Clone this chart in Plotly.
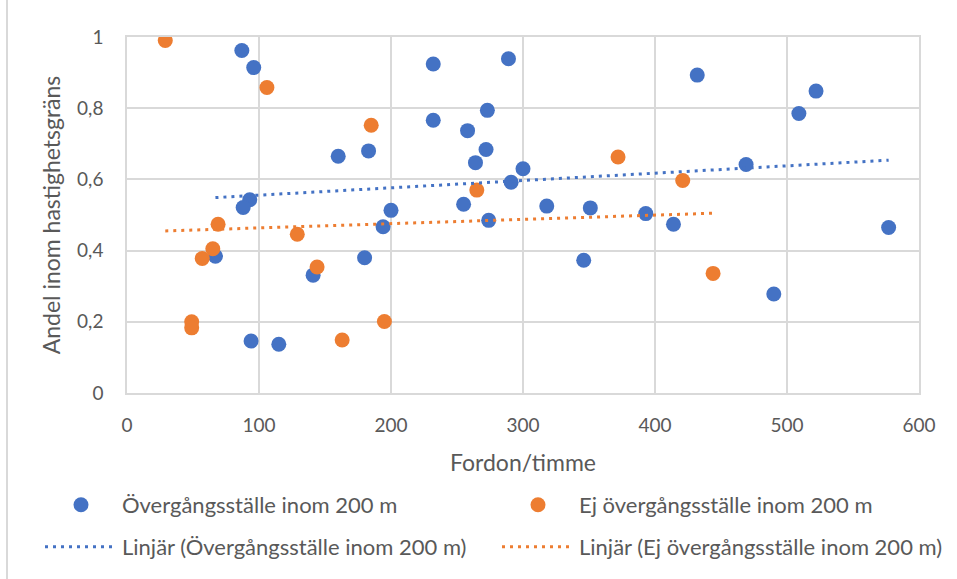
import numpy as np
import plotly.graph_objects as go

# Blue series: Övergångsställe inom 200 m
blue_x = [87, 96, 160, 183, 93, 88, 200, 232, 289, 432, 232, 273, 258, 272, 264, 300,
          291, 255, 274, 318, 351, 393, 414, 346, 469, 509, 522, 577, 490, 67, 141, 180,
          194, 94, 115]
blue_y = [0.962, 0.914, 0.665, 0.680, 0.543, 0.521, 0.513, 0.924, 0.939, 0.893, 0.766,
          0.794, 0.737, 0.684, 0.647, 0.630, 0.592, 0.530, 0.485, 0.525, 0.520, 0.504,
          0.474, 0.373, 0.642, 0.785, 0.848, 0.465, 0.278, 0.384, 0.331, 0.380, 0.467,
          0.146, 0.137]

# Orange series: Ej övergångsställe inom 200 m
orange_x = [29, 106, 185, 372, 421, 265, 69, 129, 65, 57, 144, 49, 49, 163, 195, 444]
orange_y = [0.990, 0.858, 0.752, 0.663, 0.597, 0.570, 0.474, 0.446, 0.405, 0.378, 0.354,
            0.200, 0.183, 0.149, 0.201, 0.336]

x_ticks = [0, 100, 200, 300, 400, 500, 600]
x_ticktext = ["0", "100", "200", "300", "400", "500", "600"]
y_ticks = [0, 0.2, 0.4, 0.6, 0.8, 1.0]
y_ticktext = ["0", "0,2", "0,4", "0,6", "0,8", "1"]

name_blue = "Övergångsställe inom 200 m"
name_orange = "Ej övergångsställe inom 200 m"

BLUE = "#4472C4"
ORANGE = "#ED7D31"
TXT = "#595959"
GRID = "#D9D9D9"
FONT = "Lato"


def trend(xs, ys):
    xs = np.array(xs, float)
    ys = np.array(ys, float)
    k, m = np.polyfit(xs, ys, 1)
    xx = np.array([xs.min(), xs.max()])
    return xx, k * xx + m


bx, by = trend(blue_x, blue_y)
ox, oy = trend(orange_x, orange_y)

fig = go.Figure()
fig.add_trace(go.Scatter(x=blue_x, y=blue_y, mode="markers", name=name_blue,
                         marker=dict(color=BLUE, size=15), legend="legend2"))
fig.add_trace(go.Scatter(x=orange_x, y=orange_y, mode="markers", name=name_orange,
                         marker=dict(color=ORANGE, size=15), legend="legend3"))
fig.add_trace(go.Scatter(x=bx, y=by, mode="lines", name="Linjär (" + name_blue + ")",
                         line=dict(color=BLUE, width=3, dash="3px,5px"), legend="legend4"))
fig.add_trace(go.Scatter(x=ox, y=oy, mode="lines", name="Linjär (" + name_orange + ")",
                         line=dict(color=ORANGE, width=3, dash="3px,5px"), legend="legend5"))

W, H = 957, 579
L, R, T, B = 127, 38, 37, 186
pw, ph = W - L - R, H - T - B


def px_to_paper_x(p):
    return (p - L) / pw


def py_to_paper_y(p):
    return (H - B - p) / ph


def leg(px, py):
    return dict(x=px_to_paper_x(px), y=py_to_paper_y(py), orientation="h",
                xanchor="left", yanchor="middle",
                font=dict(family=FONT, size=22, color=TXT),
                bgcolor="rgba(0,0,0,0)", itemwidth=72, borderwidth=0)


fig.update_layout(
    width=W, height=H,
    showlegend=True,
    margin=dict(l=L, r=R, t=T, b=B, autoexpand=False),
    paper_bgcolor="white", plot_bgcolor="white",
    font=dict(family=FONT, color=TXT),
    legend2=leg(40, 505),
    legend3=leg(497, 505),
    legend4=leg(40, 547),
    legend5=leg(497, 547),
    xaxis=dict(range=[0, 600], tickvals=x_ticks, ticktext=x_ticktext,
               showgrid=True, gridcolor=GRID, gridwidth=1.5,
               showline=True, linecolor=GRID, linewidth=1.5, mirror=True,
               zeroline=False, ticks="", ticklabelstandoff=14,
               tickfont=dict(family=FONT, size=19, color=TXT),
               title=dict(text="Fordon/timme", font=dict(family=FONT, size=23, color=TXT),
                          standoff=20)),
    yaxis=dict(range=[0, 1], tickvals=y_ticks, ticktext=y_ticktext,
               showgrid=True, gridcolor=GRID, gridwidth=1.5,
               showline=True, linecolor=GRID, linewidth=1.5, mirror=True,
               zeroline=False, ticks="", ticklabelstandoff=18,
               tickfont=dict(family=FONT, size=19, color=TXT),
               title=dict(text="Andel inom hastighetsgräns",
                          font=dict(family=FONT, size=23, color=TXT), standoff=10)),
    shapes=[dict(type="line", xref="paper", yref="paper",
                 x0=px_to_paper_x(7), x1=px_to_paper_x(7),
                 y0=py_to_paper_y(0), y1=py_to_paper_y(579),
                 line=dict(color=GRID, width=2))],
)

fig.write_html("out.html")
